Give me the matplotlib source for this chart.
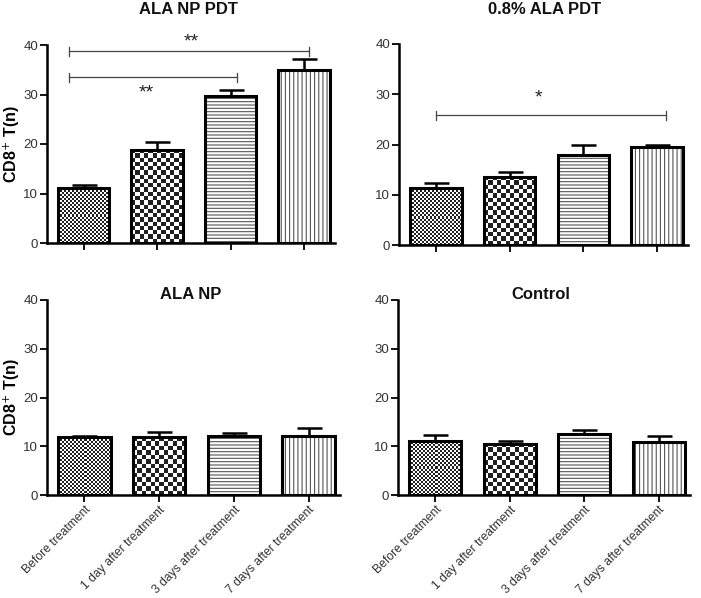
import numpy as np
import matplotlib
matplotlib.use("Agg")
import matplotlib.pyplot as plt

plt.rcParams['font.family'] = ['Liberation Sans', 'DejaVu Sans']
plt.rcParams['hatch.linewidth'] = 0.8

groups = ['Before treatment', '1 day after treatment',
          '3 days after treatment', '7 days after treatment']

# panel titles and values (mean, upper error)
titles = ['ALA NP PDT', '0.8% ALA PDT', 'ALA NP', 'Control']
means_ala_np_pdt = [11.1, 18.8, 29.7, 34.9]
err_ala_np_pdt = [0.6, 1.7, 1.3, 2.2]
means_ala_pdt = [11.3, 13.6, 18.0, 19.5]
err_ala_pdt = [1.0, 0.9, 1.9, 0.4]
means_ala_np = [11.8, 11.8, 12.2, 12.1]
err_ala_np = [0.3, 1.1, 0.5, 1.7]
means_control = [11.1, 10.5, 12.5, 10.8]
err_control = [1.2, 0.6, 0.9, 1.3]

# significance brackets: (x start, x end, y line, star x, star y, label)
sig_ala_np_pdt = [(-0.2, 3.07, 38.7, 1.47, 40.7, '**'),
                  (-0.2, 2.09, 33.5, 0.85, 30.4, '**')]
sig_ala_pdt = [(0.0, 3.12, 25.8, 1.39, 29.3, '*')]

fig = plt.figure(figsize=(7.01, 5.98), dpi=100)
W, H = 701, 598


def px_axes(x0, x1, ytop, ybot):
    return fig.add_axes([x0 / W, 1 - ybot / H, (x1 - x0) / W, (ybot - ytop) / H])


axes = [px_axes(47, 335, 45, 243), px_axes(399, 688, 44, 245),
        px_axes(47, 340, 300, 495), px_axes(398, 690, 300, 495)]
ax_width_px = [288, 289, 293, 292]
all_means = [means_ala_np_pdt, means_ala_pdt, means_ala_np, means_control]
all_errs = [err_ala_np_pdt, err_ala_pdt, err_ala_np, err_control]
all_sig = [sig_ala_np_pdt, sig_ala_pdt, [], []]
title_pos = [(0.49, 1.18), (0.505, 1.174), (0.49, 1.03), (0.49, 1.03)]

x = np.arange(len(groups))
width = 0.7


def checker_fill(ax, bar, cell_px):
    # checkerboard image clipped to the bar shape
    x0, y0 = bar.get_x(), bar.get_y()
    w, h = bar.get_width(), bar.get_height()
    p0 = ax.transData.transform((x0, y0))
    p1 = ax.transData.transform((x0 + w, y0 + h))
    nc = max(1, int(round(abs(p1[0] - p0[0]) / cell_px)))
    nr = max(1, int(round(abs(p1[1] - p0[1]) / cell_px)))
    img = (np.add.outer(np.arange(nr), np.arange(nc)) % 2).astype(float)
    im = ax.imshow(img, cmap='gray', vmin=-0.15, vmax=1, interpolation='nearest',
                   extent=(x0, x0 + w, y0, y0 + h), aspect='auto', zorder=1.5)
    im.set_clip_path(bar)


for i, ax in enumerate(axes):
    ax.set_xlim(-0.5, 3.42)
    ax.set_ylim(0, 40)
    m = all_means[i]
    e = all_errs[i]
    ax.errorbar(x, m, yerr=[np.zeros(4), e], fmt='none', ecolor='black',
                elinewidth=1.8, capsize=9, capthick=1.8, zorder=1)
    base = ax.bar(x, m, width, color='white', edgecolor='none', zorder=1.2)
    checker_fill(ax, base[0], 2.0)
    checker_fill(ax, base[1], 4.3)
    ax.bar(x[2], m[2], width, color='white', edgecolor='#555555', lw=0,
           hatch='-----', zorder=1.6)
    ax.bar(x[3], m[3], width, color='white', edgecolor='#555555', lw=0,
           hatch='||||', zorder=1.6)
    ax.bar(x, m, width, fill=False, edgecolor='black', lw=2.2, zorder=3)

    for (xa, xb, yl, sx, sy, lab) in all_sig[i]:
        ax.plot([xa, xb], [yl, yl], color='#444444', lw=0.9, clip_on=False)
        for xe in (xa, xb):
            ax.plot([xe, xe], [yl - 1.0, yl + 0.8], color='#444444', lw=0.9,
                    clip_on=False)
        ax.text(sx, sy, lab, ha='center', va='center', fontsize=14,
                color='#222222', clip_on=False)

    ax.spines['top'].set_visible(False)
    ax.spines['right'].set_visible(False)
    ax.spines['left'].set_linewidth(1.8)
    ax.spines['bottom'].set_linewidth(1.8)
    ax.set_yticks([0, 10, 20, 30, 40])
    ax.set_xticks(x)
    ax.tick_params(axis='both', direction='out', length=5, width=1.3,
                   labelsize=9.5, labelcolor='#333333', pad=1.5)
    if i < 2:
        ax.set_xticklabels([])
    else:
        ax.set_xticklabels(groups, rotation=45, ha='right',
                           rotation_mode='anchor', fontsize=8.7, color='#333333')
    if i % 2 == 0:
        ax.set_ylabel('CD8$^{+}$ T(n)', fontsize=11.5, fontweight='bold',
                      va='center')
        ax.yaxis.set_label_coords(-35 / ax_width_px[i], 0.5)
    tx, ty = title_pos[i]
    ax.text(tx, ty, titles[i], transform=ax.transAxes, ha='center',
            va='center', fontsize=12, fontweight='bold', color='#111111')

fig.savefig('out.png', dpi=100)
